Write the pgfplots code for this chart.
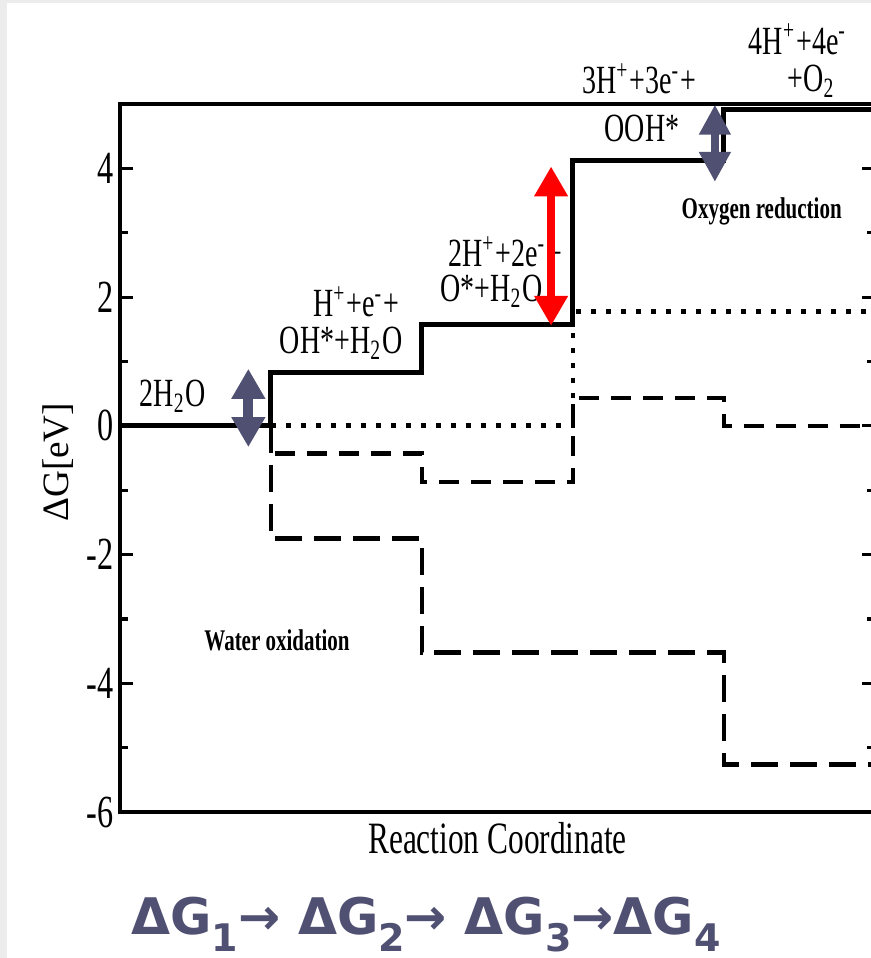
\documentclass[border=0pt]{standalone}
\usepackage{fontspec}
\setmainfont{Liberation Serif}[FakeStretch=0.7]
\newfontfamily\ylfont{Liberation Serif}
\newfontfamily\dvs{DejaVu Sans}
\usepackage{pgfplots}
\pgfplotsset{compat=1.18}
\usetikzlibrary{arrows.meta}
\definecolor{slate}{RGB}{80,80,115}
\definecolor{bgstrip}{RGB}{236,236,236}
\newcommand\bsub[1]{\raisebox{-0.32em}{\fontsize{9.5}{10}\selectfont #1}}

\begin{document}
\begin{tikzpicture}
\path[use as bounding box] (0,0) rectangle (217.75pt,239.5pt);
\clip (0,0) rectangle (217.75pt,239.5pt);
\fill[white] (0,0) rectangle (217.75pt,239.5pt);
\fill[bgstrip] (0,0) rectangle (1.75pt,239.5pt);
\fill[bgstrip] (0,238.75pt) rectangle (217.75pt,239.5pt);
\begin{axis}[
  at={(30pt,36.5pt)}, anchor=south west,
  scale only axis, width=188.75pt, height=177pt,
  xmin=0, xmax=5, ymin=-6, ymax=5,
  xtick=\empty,
  ytick={-6,-4,-2,0,2,4},
  minor ytick={-5,-3,-1,1,3},
  tick align=inside,
  major tick length=3.25pt, minor tick length=2pt,
  axis line style={line width=0.9pt},
  every tick/.style={line width=0.8pt, black},
  /pgf/number format/assume math mode=true,
  yticklabel style={font=\fontsize{11.5}{12}\selectfont, inner sep=1.5pt},
  ylabel={\ylfont\fontsize{9.3}{11}\selectfont ΔG[eV]},
  ylabel style={at={(axis description cs:-0.082,0.494)}, anchor=center},
  xlabel={Reaction Coordinate},
  xlabel style={at={(axis description cs:0.5,-0.058)}, anchor=base, font=\fontsize{11.2}{13}\selectfont},
  clip=false,
  every node/.append style={font=\fontsize{11}{13}\selectfont},
]
% long dashed series
\addplot[black, line width=1.1pt, dash pattern=on 6.75pt off 3pt] coordinates {
  (1,0) (1,-1.75) (2,-1.75) (2,-3.52) (4,-3.52) (4,-5.26) (5,-5.26)};
% dashed series
\addplot[black, line width=1.1pt, dash pattern=on 5pt off 3pt] coordinates {
  (1,0) (1,-0.43) (2,-0.43) (2,-0.87) (3,-0.87) (3,0.43) (4,0.43) (4,0) (5,0)};
% dotted series
\addplot[black, line width=1.2pt, dash pattern=on 1.2pt off 2.55pt] coordinates {
  (1,0) (3,0) (3,1.78) (5,1.78)};
% solid series
\addplot[black, line width=1.25pt] coordinates {
  (0,0) (1,0) (1,0.83) (2,0.83) (2,1.58) (3,1.58) (3,4.13) (4,4.13) (4,4.92) (5,4.92)};

% labels
\node[anchor=base] at (0.35,0.30) {2H\textsubscript{2}O};
\node[anchor=base] at (1.563,1.695) {H\textsuperscript{+}+e\textsuperscript{-}+};
\node[anchor=base] at (1.464,1.12) {OH*+H\textsubscript{2}O};
\node[anchor=base] at (2.55,2.47) {2H\textsuperscript{+}+2e\textsuperscript{-}+};
\node[anchor=base] at (2.46,1.93) {O*+H\textsubscript{2}O};
\node[anchor=base] at (3.437,5.163) {3H\textsuperscript{+}+3e\textsuperscript{-}+};
\node[anchor=base] at (3.457,4.417) {OOH*};
\node[anchor=base] at (4.49,5.77) {4H\textsuperscript{+}+4e\textsuperscript{-}};
\node[anchor=base] at (4.58,5.19) {+O\textsubscript{2}};
\node[font=\bfseries\fontsize{7.5}{9}\selectfont] at (4.25,3.33) {Oxygen reduction};
\node[font=\bfseries\fontsize{7.5}{9}\selectfont] at (1.04,-3.34) {Water oxidation};

% arrows
\draw[slate, line width=2.5pt, {Triangle[width=8pt,length=7.5pt]}-{Triangle[width=8pt,length=7.5pt]}] (0.85,-0.33) -- (0.85,0.886);
\draw[red, line width=1.9pt, {Triangle[width=8pt,length=7.5pt]}-{Triangle[width=8pt,length=7.5pt]}] (2.855,1.555) -- (2.855,4.03);
\draw[slate, line width=2.2pt, {Triangle[width=7.5pt,length=7.5pt]}-{Triangle[width=7.5pt,length=7.5pt]}] (3.94,3.79) -- (3.94,4.99);
\end{axis}
\node[anchor=base, text=slate, font=\dvs\bfseries\fontsize{12.6}{15}\selectfont] at (106.5pt,5.75pt)
  {ΔG\bsub{1}→ ΔG\bsub{2}→ ΔG\bsub{3}→ΔG\bsub{4}};
\end{tikzpicture}
\end{document}
